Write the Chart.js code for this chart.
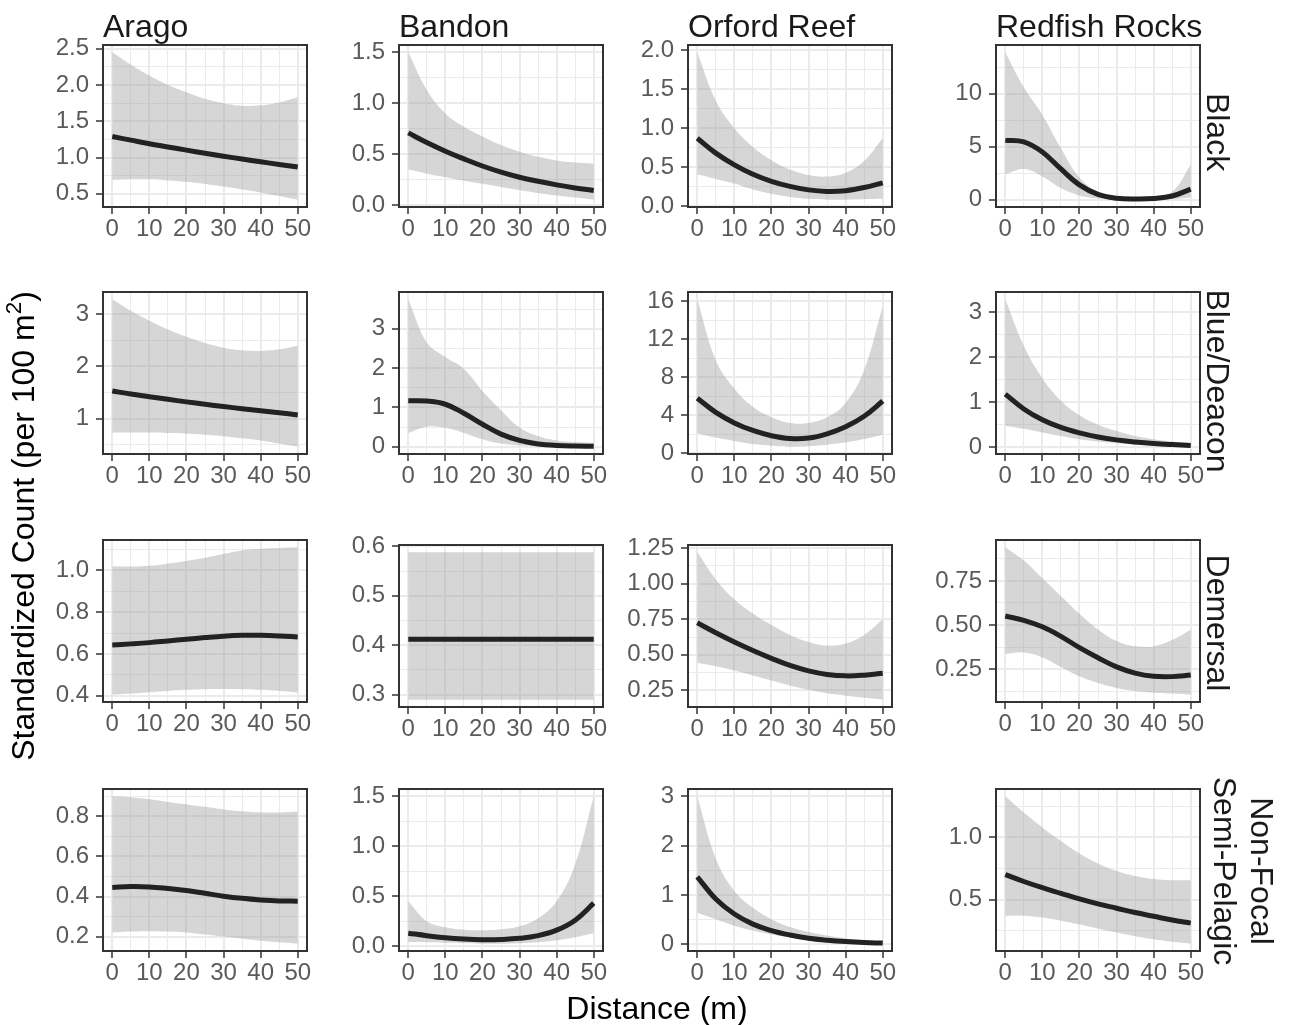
<!DOCTYPE html>
<html>
<head>
<meta charset="utf-8">
<title>Standardized count by distance</title>
<script src="https://cdn.jsdelivr.net/npm/chart.js@4.4.1/dist/chart.umd.min.js"></script>
<style>
    html, body { margin: 0; padding: 0; background: #fff; }
    #fig { position: relative; width: 1290px; height: 1025px; overflow: hidden;
           font-family: "Liberation Sans", Arial, Helvetica, sans-serif; }
    #fig canvas { position: absolute; }
    .strip { position: absolute; font-size: 32px; line-height: 32px; color: #1a1a1a; white-space: pre; }
    .rstrip { position: absolute; font-size: 32px; color: #1a1a1a; white-space: pre;
              text-align: center; transform: rotate(90deg); }
    .title { position: absolute; font-size: 32px; line-height: 32px; color: #000;
             white-space: nowrap; text-align: center; }
    .title sup { font-size: 0.7em; line-height: 0; vertical-align: 0.6em; }
</style>
</head>
<body>
<div id="fig"></div>
<script>
// Facets
const sites = ['Arago', 'Bandon', 'Orford Reef', 'Redfish Rocks'];
const groups = ['Black', 'Blue/Deacon', 'Demersal', 'Non-Focal\nSemi-Pelagic'];

// Distance (m) at which the fitted curves were read
const distance = [0, 5, 10, 15, 20, 25, 30, 35, 40, 45, 50];
const xTicks = ['0', '10', '20', '30', '40', '50'];

// Black
const aragoBlackFit = [1.29, 1.24, 1.19, 1.146, 1.102, 1.06, 1.019, 0.979, 0.942, 0.905, 0.87];
const aragoBlackLo  = [0.69, 0.70, 0.70, 0.685, 0.665, 0.635, 0.60, 0.56, 0.52, 0.47, 0.42];
const aragoBlackHi  = [2.45, 2.28, 2.13, 2.00, 1.90, 1.81, 1.75, 1.715, 1.72, 1.76, 1.83];
const aragoBlackTicks = ['0.5', '1.0', '1.5', '2.0', '2.5'];

const bandonBlackFit = [0.71, 0.615, 0.53, 0.455, 0.385, 0.325, 0.275, 0.235, 0.20, 0.17, 0.145];
const bandonBlackLo  = [0.35, 0.31, 0.275, 0.24, 0.21, 0.18, 0.15, 0.12, 0.095, 0.075, 0.055];
const bandonBlackHi  = [1.50, 1.13, 0.90, 0.77, 0.675, 0.59, 0.525, 0.475, 0.44, 0.42, 0.41];
const bandonBlackTicks = ['0.0', '0.5', '1.0', '1.5'];

const orfordBlackFit = [0.87, 0.68, 0.53, 0.41, 0.32, 0.255, 0.21, 0.19, 0.20, 0.24, 0.30];
const orfordBlackLo  = [0.41, 0.35, 0.29, 0.215, 0.16, 0.12, 0.095, 0.085, 0.085, 0.09, 0.095];
const orfordBlackHi  = [1.97, 1.35, 1.00, 0.76, 0.59, 0.47, 0.40, 0.38, 0.43, 0.58, 0.87];
const orfordBlackTicks = ['0.0', '0.5', '1.0', '1.5', '2.0'];

const redfishBlackFit = [5.6, 5.45, 4.5, 2.9, 1.4, 0.5, 0.15, 0.08, 0.12, 0.35, 1.0];
const redfishBlackLo  = [2.4, 2.9, 2.2, 1.1, 0.4, 0.12, 0.03, 0.01, 0.02, 0.06, 0.22];
const redfishBlackHi  = [13.9, 10.6, 8.0, 4.85, 2.1, 0.75, 0.24, 0.15, 0.25, 0.75, 3.3];
const redfishBlackTicks = ['0', '5', '10'];

// Blue/Deacon
const aragoBlueFit = [1.53, 1.47, 1.42, 1.37, 1.32, 1.275, 1.23, 1.19, 1.15, 1.11, 1.07];
const aragoBlueLo  = [0.73, 0.73, 0.73, 0.72, 0.71, 0.69, 0.66, 0.62, 0.58, 0.52, 0.46];
const aragoBlueHi  = [3.29, 3.07, 2.88, 2.71, 2.57, 2.45, 2.36, 2.31, 2.30, 2.33, 2.40];
const aragoBlueTicks = ['1', '2', '3'];

const bandonBlueFit = [1.17, 1.16, 1.08, 0.85, 0.57, 0.32, 0.16, 0.07, 0.03, 0.015, 0.01];
const bandonBlueLo  = [0.35, 0.51, 0.48, 0.35, 0.19, 0.08, 0.03, 0.01, 0.005, 0.002, 0.001];
const bandonBlueHi  = [3.75, 2.65, 2.28, 1.98, 1.42, 0.93, 0.49, 0.27, 0.16, 0.12, 0.10];
const bandonBlueTicks = ['0', '1', '2', '3'];

const orfordBlueFit = [5.8, 4.3, 3.2, 2.4, 1.85, 1.55, 1.6, 2.05, 2.8, 3.9, 5.5];
const orfordBlueLo  = [2.1, 1.65, 1.3, 0.98, 0.8, 0.7, 0.75, 0.9, 1.15, 1.5, 1.95];
const orfordBlueHi  = [16.2, 9.8, 6.8, 4.9, 3.8, 3.2, 3.2, 3.8, 5.3, 8.8, 15.5];
const orfordBlueTicks = ['0', '4', '8', '12', '16'];

const redfishBlueFit = [1.18, 0.85, 0.61, 0.44, 0.32, 0.23, 0.165, 0.12, 0.085, 0.06, 0.04];
const redfishBlueLo  = [0.48, 0.41, 0.33, 0.25, 0.18, 0.13, 0.09, 0.06, 0.04, 0.025, 0.015];
const redfishBlueHi  = [3.28, 2.25, 1.53, 1.03, 0.71, 0.50, 0.36, 0.25, 0.18, 0.13, 0.10];
const redfishBlueTicks = ['0', '1', '2', '3'];

// Demersal
const aragoDemFit = [0.643, 0.648, 0.654, 0.662, 0.670, 0.678, 0.685, 0.689, 0.689, 0.686, 0.681];
const aragoDemLo  = [0.405, 0.410, 0.417, 0.423, 0.428, 0.431, 0.432, 0.431, 0.428, 0.422, 0.415];
const aragoDemHi  = [1.020, 1.018, 1.022, 1.032, 1.045, 1.060, 1.078, 1.095, 1.103, 1.107, 1.110];
const aragoDemTicks = ['0.4', '0.6', '0.8', '1.0'];

const bandonDemFit = [0.412, 0.412, 0.412, 0.412, 0.412, 0.412, 0.412, 0.412, 0.412, 0.412, 0.412];
const bandonDemLo  = [0.290, 0.290, 0.290, 0.290, 0.290, 0.290, 0.290, 0.290, 0.290, 0.290, 0.290];
const bandonDemHi  = [0.588, 0.588, 0.588, 0.588, 0.588, 0.588, 0.588, 0.588, 0.588, 0.588, 0.588];
const bandonDemTicks = ['0.3', '0.4', '0.5', '0.6'];

const orfordDemFit = [0.725, 0.655, 0.59, 0.53, 0.475, 0.425, 0.387, 0.362, 0.352, 0.357, 0.37];
const orfordDemLo  = [0.445, 0.42, 0.39, 0.355, 0.32, 0.285, 0.255, 0.23, 0.213, 0.198, 0.185];
const orfordDemHi  = [1.22, 1.03, 0.89, 0.79, 0.71, 0.64, 0.59, 0.565, 0.58, 0.64, 0.75];
const orfordDemTicks = ['0.25', '0.50', '0.75', '1.00', '1.25'];

const redfishDemFit = [0.551, 0.527, 0.49, 0.436, 0.372, 0.315, 0.263, 0.228, 0.21, 0.208, 0.217];
const redfishDemLo  = [0.336, 0.345, 0.317, 0.263, 0.21, 0.172, 0.144, 0.126, 0.117, 0.112, 0.106];
const redfishDemHi  = [0.94, 0.865, 0.765, 0.665, 0.564, 0.475, 0.41, 0.38, 0.38, 0.415, 0.473];
const redfishDemTicks = ['0.25', '0.50', '0.75'];

// Non-Focal Semi-Pelagic
const aragoNfFit = [0.445, 0.45, 0.448, 0.44, 0.43, 0.416, 0.402, 0.391, 0.383, 0.378, 0.377];
const aragoNfLo  = [0.22, 0.225, 0.227, 0.225, 0.22, 0.21, 0.20, 0.19, 0.18, 0.172, 0.165];
const aragoNfHi  = [0.90, 0.895, 0.885, 0.872, 0.86, 0.848, 0.835, 0.826, 0.82, 0.82, 0.825];
const aragoNfTicks = ['0.2', '0.4', '0.6', '0.8'];

const bandonNfFit = [0.13, 0.105, 0.085, 0.072, 0.065, 0.067, 0.078, 0.105, 0.16, 0.26, 0.43];
const bandonNfLo  = [0.04, 0.04, 0.035, 0.03, 0.025, 0.025, 0.03, 0.04, 0.06, 0.09, 0.13];
const bandonNfHi  = [0.45, 0.25, 0.19, 0.165, 0.16, 0.17, 0.20, 0.28, 0.45, 0.82, 1.5];
const bandonNfTicks = ['0.0', '0.5', '1.0', '1.5'];

const orfordNfFit = [1.37, 0.92, 0.615, 0.41, 0.28, 0.19, 0.125, 0.085, 0.057, 0.038, 0.026];
const orfordNfLo  = [0.64, 0.51, 0.38, 0.28, 0.20, 0.14, 0.09, 0.06, 0.04, 0.025, 0.015];
const orfordNfHi  = [3.0, 1.74, 1.08, 0.74, 0.51, 0.35, 0.25, 0.18, 0.12, 0.085, 0.06];
const orfordNfTicks = ['0', '1', '2', '3'];

const redfishNfFit = [0.70, 0.645, 0.595, 0.55, 0.505, 0.465, 0.43, 0.395, 0.365, 0.335, 0.31];
const redfishNfLo  = [0.37, 0.37, 0.355, 0.33, 0.30, 0.265, 0.235, 0.205, 0.18, 0.16, 0.145];
const redfishNfHi  = [1.33, 1.20, 1.08, 0.97, 0.87, 0.79, 0.73, 0.69, 0.665, 0.655, 0.655];
const redfishNfTicks = ['0.5', '1.0'];

// rows = groups, columns = sites
const panelData = [
    [[aragoBlackFit, aragoBlackLo, aragoBlackHi, aragoBlackTicks],
     [bandonBlackFit, bandonBlackLo, bandonBlackHi, bandonBlackTicks],
     [orfordBlackFit, orfordBlackLo, orfordBlackHi, orfordBlackTicks],
     [redfishBlackFit, redfishBlackLo, redfishBlackHi, redfishBlackTicks]],
    [[aragoBlueFit, aragoBlueLo, aragoBlueHi, aragoBlueTicks],
     [bandonBlueFit, bandonBlueLo, bandonBlueHi, bandonBlueTicks],
     [orfordBlueFit, orfordBlueLo, orfordBlueHi, orfordBlueTicks],
     [redfishBlueFit, redfishBlueLo, redfishBlueHi, redfishBlueTicks]],
    [[aragoDemFit, aragoDemLo, aragoDemHi, aragoDemTicks],
     [bandonDemFit, bandonDemLo, bandonDemHi, bandonDemTicks],
     [orfordDemFit, orfordDemLo, orfordDemHi, orfordDemTicks],
     [redfishDemFit, redfishDemLo, redfishDemHi, redfishDemTicks]],
    [[aragoNfFit, aragoNfLo, aragoNfHi, aragoNfTicks],
     [bandonNfFit, bandonNfLo, bandonNfHi, bandonNfTicks],
     [orfordNfFit, orfordNfLo, orfordNfHi, orfordNfTicks],
     [redfishNfFit, redfishNfLo, redfishNfHi, redfishNfTicks]]
];

// Layout (px)
const colLeft = [103, 399, 688, 996];
const rowTop = [42, 289, 537, 786];
const PW = 204, PH = 165;
const AXIS_W = 70, AXIS_H = 44, PAD_T = 16, PAD_R = 22;
const stripY = [132, 381, 623, 871];

const fig = document.getElementById('fig');
const FONT = '"Liberation Sans", Arial, Helvetica, sans-serif';
const tickFont = { family: FONT, size: 24, lineHeight: 1 };

// ggplot-like panel border, drawn on top
const panelBorder = {
    id: 'panelBorder',
    afterDraw(chart) {
        const a = chart.chartArea;
        const ctx = chart.ctx;
        ctx.save();
        ctx.strokeStyle = '#333333';
        ctx.lineWidth = 2;
        ctx.strokeRect(a.left, a.top, a.right - a.left, a.bottom - a.top);
        ctx.restore();
    }
};

const gridOpts = {
    color: '#EBEBEB',
    lineWidth: ctx => (ctx.tick && ctx.tick.isMajor ? 2 : 1),
    drawTicks: true,
    tickLength: 7,
    tickWidth: 1.5,
    tickColor: ctx => (ctx.tick && ctx.tick.isMajor ? '#333333' : 'rgba(0,0,0,0)')
};

// major ticks plus ggplot-style minor breaks halfway between them
function gridTicks(labels, min, max) {
    const majors = labels.map(Number);
    const step = majors[1] - majors[0];
    const minors = majors.map(v => v - step / 2).concat(majors[majors.length - 1] + step / 2);
    return majors.map(v => ({ value: v, isMajor: true }))
        .concat(minors.map(v => ({ value: v, isMajor: false })))
        .filter(t => t.value >= min - 1e-9 && t.value <= max + 1e-9)
        .sort((a, b) => a.value - b.value);
}

function labelFor(labels) {
    const majors = labels.map(Number);
    return v => {
        const i = majors.findIndex(m => Math.abs(m - v) < 1e-9);
        return i >= 0 ? labels[i] : '';
    };
}

function points(ys) {
    return distance.map((d, i) => ({ x: d, y: ys[i] }));
}

const xSpan = distance[distance.length - 1] - distance[0];
const xMin = distance[0] - xSpan * 0.05;
const xMax = distance[distance.length - 1] + xSpan * 0.05;
const xGrid = gridTicks(xTicks, xMin, xMax);
const xLabel = labelFor(xTicks);

function makePanel(r, c) {
    const [fit, lo, hi, ticks] = panelData[r][c];
    const top = rowTop[r] + (r === 2 && (c === 1 || c === 2) ? 5 : 0);

    const cv = document.createElement('canvas');
    cv.width = AXIS_W + PW + PAD_R;
    cv.height = PAD_T + PH + AXIS_H;
    cv.style.left = (colLeft[c] - AXIS_W) + 'px';
    cv.style.top = (top - PAD_T) + 'px';
    fig.appendChild(cv);

    const lower = Math.min(...lo);
    const upper = Math.max(...hi);
    const span = upper - lower;
    const yMin = lower - span * 0.05;
    const yMax = upper + span * 0.05;
    const yGrid = gridTicks(ticks, yMin, yMax);
    const yLabel = labelFor(ticks);

    new Chart(cv, {
        type: 'line',
        data: {
            datasets: [{
                data: points(fit),
                borderColor: '#222222',
                borderWidth: 5,
                fill: false
            }, {
                data: points(hi),
                borderColor: 'rgba(0,0,0,0)',
                borderWidth: 0,
                backgroundColor: 'rgba(153,153,153,0.4)',
                fill: '+1'
            }, {
                data: points(lo),
                borderColor: 'rgba(0,0,0,0)',
                borderWidth: 0,
                fill: false
            }]
        },
        options: {
            responsive: false,
            animation: false,
            events: [],
            elements: { point: { radius: 0 }, line: { tension: 0.4 } },
            layout: { padding: { top: PAD_T, right: PAD_R, left: 0, bottom: 0 } },
            plugins: {
                legend: { display: false },
                tooltip: { enabled: false },
                filler: { drawTime: 'beforeDatasetsDraw' }
            },
            scales: {
                x: {
                    type: 'linear',
                    min: xMin,
                    max: xMax,
                    afterBuildTicks: s => { s.ticks = xGrid.map(t => ({ ...t })); },
                    afterFit: s => { s.height = AXIS_H; },
                    grid: gridOpts,
                    border: { display: false },
                    ticks: {
                        autoSkip: false, maxRotation: 0, minRotation: 0,
                        padding: 3, color: '#5a5a5a', font: tickFont,
                        callback: v => xLabel(v)
                    }
                },
                y: {
                    type: 'linear',
                    min: yMin,
                    max: yMax,
                    afterBuildTicks: s => { s.ticks = yGrid.map(t => ({ ...t })); },
                    afterFit: s => { s.width = AXIS_W; },
                    grid: gridOpts,
                    border: { display: false },
                    ticks: {
                        autoSkip: false, padding: 7, color: '#5a5a5a', font: tickFont,
                        callback: v => yLabel(v)
                    }
                }
            }
        },
        plugins: [panelBorder]
    });
}

for (let r = 0; r < groups.length; r++) {
    for (let c = 0; c < sites.length; c++) {
        makePanel(r, c);
    }
}

// strip labels on top (sites)
sites.forEach((name, c) => {
    const d = document.createElement('div');
    d.className = 'strip';
    d.textContent = name;
    d.style.left = colLeft[c] + 'px';
    d.style.top = '10px';
    fig.appendChild(d);
});

// strip labels on the right (groups), rotated
groups.forEach((name, r) => {
    const lines = name.split('\n').length;
    const lh = lines > 1 ? 37 : 32;
    const w = 300, h = lh * lines;
    const cx = lines > 1 ? 1243 : 1218;
    const d = document.createElement('div');
    d.className = 'rstrip';
    d.textContent = name;
    d.style.lineHeight = lh + 'px';
    d.style.width = w + 'px';
    d.style.height = h + 'px';
    d.style.left = (cx - w / 2) + 'px';
    d.style.top = (stripY[r] - h / 2) + 'px';
    fig.appendChild(d);
});

// axis titles
const xTitle = document.createElement('div');
xTitle.className = 'title';
xTitle.textContent = 'Distance (m)';
xTitle.style.width = '400px';
xTitle.style.left = (657 - 200) + 'px';
xTitle.style.top = '992px';
fig.appendChild(xTitle);

const yTitle = document.createElement('div');
yTitle.className = 'title';
yTitle.innerHTML = 'Standardized Count (per 100 m<sup>2</sup>)';
yTitle.style.width = '600px';
yTitle.style.height = '32px';
yTitle.style.left = (23 - 300) + 'px';
yTitle.style.top = (526 - 16) + 'px';
yTitle.style.transform = 'rotate(-90deg)';
fig.appendChild(yTitle);
</script>
</body>
</html>
